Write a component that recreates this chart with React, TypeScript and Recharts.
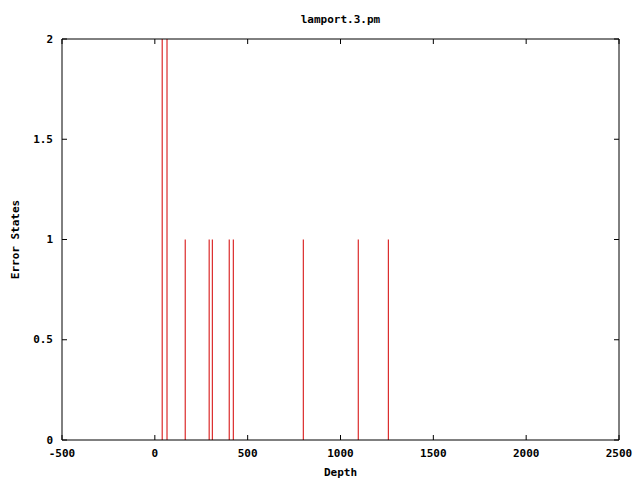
import { ComposedChart, Bar, XAxis, YAxis, Label } from 'recharts';

const depths = [40, 66, 164, 293, 310, 401, 423, 800, 1096, 1258];
const errorStates = [2, 2, 1, 1, 1, 1, 1, 1, 1, 1];
const xTicks = [-500, 0, 500, 1000, 1500, 2000, 2500];
const yTicks = [0, 0.5, 1, 1.5, 2];

const FONT = '"DejaVu Sans Mono", monospace';
const RED = '#d40000';

// plot box: gnuplot-style frame with inward ticks mirrored on all sides
const LEFT = 62;
const RIGHT = 21;
const TOP = 39;
const BOTTOM = 40;
const PLOT_W = 640 - LEFT - RIGHT;
const PLOT_H = 480 - TOP - BOTTOM;
const TICK = 5;

const textStyle = { fontFamily: FONT, fontSize: 11, fontWeight: 700, fill: '#000' };

function BottomTick({ x, y, payload }: any) {
  return (
    <g>
      <line x1={x} x2={x} y1={y} y2={y - TICK} stroke="#000" />
      <line x1={x} x2={x} y1={y - PLOT_H} y2={y - PLOT_H + TICK} stroke="#000" />
      <text x={x} y={y + 13} textAnchor="middle" dominantBaseline="central" style={textStyle}>
        {payload.value}
      </text>
    </g>
  );
}

function LeftTick({ x, y, payload }: any) {
  return (
    <g>
      <line x1={x} x2={x + TICK} y1={y} y2={y} stroke="#000" />
      <line x1={x + PLOT_W} x2={x + PLOT_W - TICK} y1={y} y2={y} stroke="#000" />
      <text x={x - 9} y={y} textAnchor="end" dominantBaseline="central" style={textStyle}>
        {payload.value}
      </text>
    </g>
  );
}

export default function App() {
  const data = depths.map((d, i) => ({ depth: d, errors: errorStates[i] }));

  return (
    <div style={{ position: 'absolute', left: 0, top: 0, background: '#fff' }}>
      <ComposedChart width={640} height={480} data={data} margin={{ top: 0, right: 0, bottom: 0, left: 0 }}>
        <XAxis
          xAxisId="b"
          dataKey="depth"
          type="number"
          domain={[-500, 2500]}
          ticks={xTicks}
          allowDataOverflow
          tickSize={0}
          tickMargin={0}
          tickLine={false}
          tick={<BottomTick />}
          axisLine={{ stroke: '#000' }}
          height={BOTTOM}
        >
          <Label
            content={({ viewBox }: any) => (
              <text
                x={viewBox.x + viewBox.width / 2}
                y={viewBox.y + 32}
                textAnchor="middle"
                dominantBaseline="central"
                style={textStyle}
              >
                Depth
              </text>
            )}
          />
        </XAxis>
        <XAxis
          xAxisId="t"
          orientation="top"
          type="number"
          domain={[-500, 2500]}
          allowDataOverflow
          tickLine={false}
          tick={false}
          axisLine={{ stroke: '#000' }}
          height={TOP}
        >
          <Label
            content={({ viewBox }: any) => (
              <text
                x={viewBox.x + viewBox.width / 2}
                y={19}
                textAnchor="middle"
                dominantBaseline="central"
                style={textStyle}
              >
                lamport.3.pm
              </text>
            )}
          />
        </XAxis>
        <YAxis
          yAxisId="l"
          type="number"
          domain={[0, 2]}
          ticks={yTicks}
          allowDataOverflow
          tickSize={0}
          tickMargin={0}
          tickLine={false}
          tick={<LeftTick />}
          axisLine={{ stroke: '#000' }}
          width={LEFT}
        >
          <Label
            content={({ viewBox }: any) => {
              const cx = 15;
              const cy = viewBox.y + viewBox.height / 2;
              return (
                <text
                  x={cx}
                  y={cy}
                  transform={`rotate(-90, ${cx}, ${cy})`}
                  textAnchor="middle"
                  dominantBaseline="central"
                  style={textStyle}
                >
                  Error States
                </text>
              );
            }}
          />
        </YAxis>
        <YAxis
          yAxisId="r"
          orientation="right"
          type="number"
          domain={[0, 2]}
          allowDataOverflow
          tickLine={false}
          tick={false}
          axisLine={{ stroke: '#000' }}
          width={RIGHT}
        />
        <Bar
          xAxisId="b"
          yAxisId="l"
          dataKey="errors"
          fill={RED}
          barSize={1}
          isAnimationActive={false}
        />
      </ComposedChart>
    </div>
  );
}
